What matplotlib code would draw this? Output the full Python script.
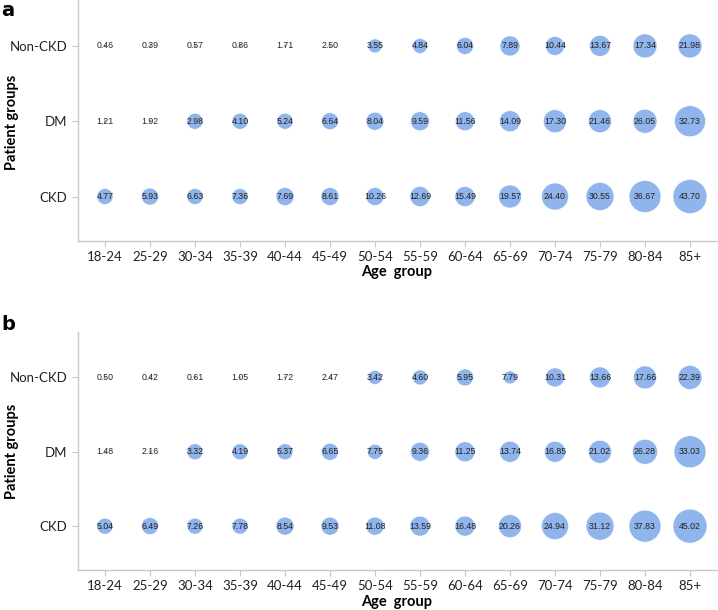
import numpy as np
import matplotlib
matplotlib.use("Agg")
import matplotlib.pyplot as plt

age_groups = ["18-24", "25-29", "30-34", "35-39", "40-44", "45-49", "50-54",
              "55-59", "60-64", "65-69", "70-74", "75-79", "80-84", "85+"]
patient_groups = ["CKD", "DM", "Non-CKD"]

# panel a: values shown in the bubbles
a_ckd = [4.77, 5.93, 6.63, 7.36, 7.69, 8.61, 10.26, 12.69, 15.49, 19.57, 24.40, 30.55, 36.67, 43.70]
a_dm = [1.21, 1.92, 2.98, 4.10, 5.24, 6.64, 8.04, 9.59, 11.56, 14.09, 17.30, 21.46, 26.05, 32.73]
a_non = [0.46, 0.39, 0.57, 0.86, 1.71, 2.50, 3.55, 4.84, 6.04, 7.89, 10.44, 13.67, 17.34, 21.98]

# panel a: bubble weight (read from bubble diameters)
a_ckd_w = [16, 17, 16, 16, 18, 18, 18, 20, 20, 23, 27, 28, 32, 34]
a_dm_w = [3, 3, 16, 16, 16, 17, 18, 19, 19, 21, 23, 23, 24, 31]
a_non_w = [3, 3, 3, 3, 3, 3, 14, 15, 17, 20, 19, 21, 24, 24]

# panel b
b_ckd = [5.04, 6.49, 7.26, 7.78, 8.54, 9.53, 11.08, 13.59, 16.48, 20.26, 24.94, 31.12, 37.83, 45.02]
b_dm = [1.48, 2.16, 3.32, 4.19, 5.37, 6.65, 7.75, 9.36, 11.25, 13.74, 16.85, 21.02, 26.28, 33.03]
b_non = [0.50, 0.42, 0.61, 1.05, 1.72, 2.47, 3.42, 4.60, 5.95, 7.79, 10.31, 13.66, 17.66, 22.39]

b_ckd_w = [16, 17, 16, 16, 18, 18, 18, 20, 20, 23, 27, 28, 32, 34]
b_dm_w = [3, 3, 16, 16, 16, 17, 15, 19, 20, 21, 21, 23, 25, 32]
b_non_w = [3, 3, 3, 3, 3, 3, 14, 15, 17, 13, 19, 21, 23, 24]

bubble_color = "#90b5ec"
spine_color = "#c8c8c8"

fig = plt.figure(figsize=(7.18, 6.10), dpi=100)
ax_a = fig.add_axes([0.1086, 0.605, 0.89, 0.395])
ax_b = fig.add_axes([0.1086, 0.0656, 0.89, 0.390])


def draw_panel(ax, rows, weights):
    x = np.arange(len(age_groups))
    for yi, (vals, w) in enumerate(zip(rows, weights)):
        w = np.array(w, dtype=float)
        ax.scatter(x, np.full(len(x), yi), s=(w * 0.72) ** 2,
                   color=bubble_color, edgecolors="white", linewidths=0.4, zorder=2)
        for xi, v in zip(x, vals):
            ax.text(xi, yi, f"{v:.2f}", ha="center", va="center",
                    fontsize=6.3, family="Liberation Sans", color="#222222", zorder=3)
    ax.set_xlim(-0.6, len(age_groups) - 0.4)
    ax.set_ylim(-0.59, 2.61)
    ax.set_xticks(x)
    ax.set_xticklabels(age_groups, family="Lato")
    ax.set_yticks(range(3))
    ax.set_yticklabels(patient_groups, family="Lato")
    for s in ["top", "right"]:
        ax.spines[s].set_visible(False)
    for s in ["left", "bottom"]:
        ax.spines[s].set_color(spine_color)
        ax.spines[s].set_linewidth(1.0)
    ax.tick_params(axis="both", colors=spine_color, length=4, width=0.8,
                   labelcolor="#222222", labelsize=9.5)
    ax.tick_params(axis="x", pad=3)
    ax.set_facecolor("white")


draw_panel(ax_a, [a_ckd, a_dm, a_non], [a_ckd_w, a_dm_w, a_non_w])
draw_panel(ax_b, [b_ckd, b_dm, b_non], [b_ckd_w, b_dm_w, b_non_w])

# axis titles and panel letters
for y_x, y_y, letter_y, lab in [(272, 122, 10, "a"), (602, 451, 325, "b")]:
    fig.text(397 / 718, 1 - y_x / 610, "Age  group", fontsize=10.5, fontweight="bold",
             family="Lato", ha="center", va="center")
    fig.text(12 / 718, 1 - y_y / 610, "Patient groups", fontsize=10.5, fontweight="bold",
             family="Lato", ha="center", va="center", rotation=90)
    fig.text(8 / 718, 1 - letter_y / 610, lab, fontsize=14, fontweight="bold",
             ha="center", va="center")

fig.savefig("out.png", dpi=100)
